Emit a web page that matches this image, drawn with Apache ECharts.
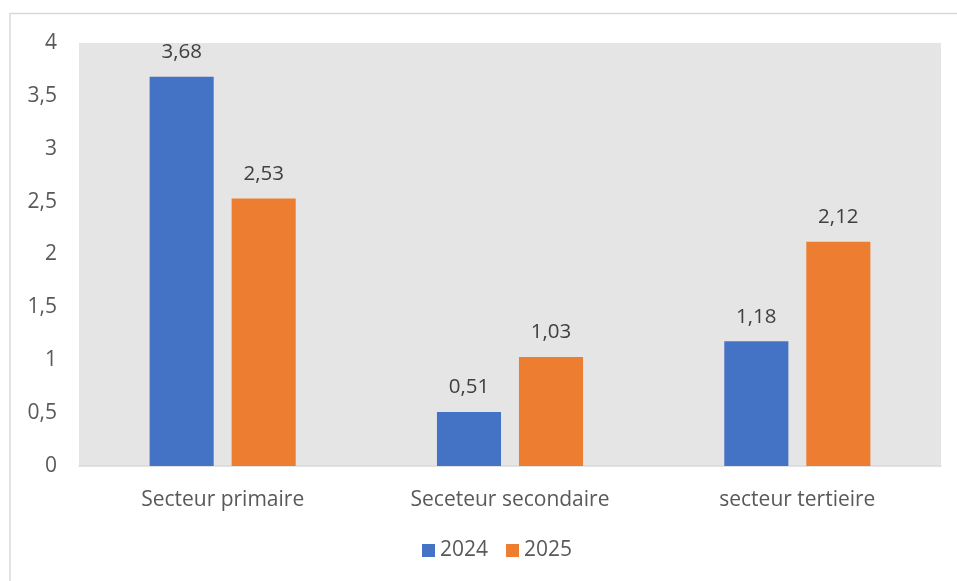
<!DOCTYPE html>
<html>
<head>
<meta charset="utf-8">
<script src="https://cdn.jsdelivr.net/npm/echarts@6/dist/echarts.min.js"></script>
<style>
  html, body { margin: 0; padding: 0; background: #ffffff; }
  #chart { width: 957px; height: 581px; }
</style>
</head>
<body>
<div id="chart"></div>
<script>
// Sector growth values, 2024 vs 2025
const categories = ['Secteur primaire', 'Seceteur secondaire', 'secteur tertieire'];
const seriesNames = ['2024', '2025'];
const values2024 = [3.68, 0.51, 1.18];
const values2025 = [2.53, 1.03, 2.12];
const yTicks = [0, 0.5, 1, 1.5, 2, 2.5, 3, 3.5, 4];

const FONT = '"Open Sans", "Noto Sans", sans-serif';
const fmt = v => String(v).replace('.', ',');

const chart = echarts.init(document.getElementById('chart'), null, { renderer: 'canvas' });

const barLabel = {
  show: true,
  position: 'top',
  distance: 14,
  color: '#404040',
  fontSize: 20.5,
  fontFamily: FONT,
  formatter: p => fmt(p.value)
};

chart.setOption({
  animation: false,
  backgroundColor: '#ffffff',
  graphic: [{
    type: 'rect',
    silent: true,
    shape: { x: 10, y: 13.5, width: 980, height: 620 },
    style: { fill: 'none', stroke: '#d9d9d9', lineWidth: 1.5 }
  }],
  grid: {
    left: 79, right: 16, top: 43, bottom: 115,
    show: true,
    backgroundColor: '#e5e5e5',
    borderWidth: 0
  },
  legend: {
    data: seriesNames,
    bottom: 15,
    left: 417,
    itemWidth: 13,
    itemHeight: 13,
    itemGap: 18,
    icon: 'rect',
    textStyle: { color: '#595959', fontSize: 21, fontFamily: FONT }
  },
  xAxis: {
    type: 'category',
    data: categories,
    axisLine: { show: true, lineStyle: { color: '#d9d9d9', width: 1.5 } },
    axisTick: { show: false },
    axisLabel: { color: '#595959', fontSize: 21, fontFamily: FONT, margin: 24 }
  },
  yAxis: {
    type: 'value',
    min: yTicks[0],
    max: yTicks[yTicks.length - 1],
    interval: 0.5,
    axisLine: { show: false },
    axisTick: { show: false },
    splitLine: { show: false },
    axisLabel: {
      color: '#595959', fontSize: 21, fontFamily: FONT, margin: 22,
      formatter: v => fmt(v)
    }
  },
  series: [
    {
      name: seriesNames[0],
      type: 'bar',
      data: values2024,
      barWidth: '22.3%',
      barGap: '28%',
      itemStyle: { color: '#4472c4' },
      label: barLabel
    },
    {
      name: seriesNames[1],
      type: 'bar',
      data: values2025,
      barWidth: '22.3%',
      itemStyle: { color: '#ed7d31' },
      label: barLabel
    }
  ]
});
</script>
</body>
</html>
